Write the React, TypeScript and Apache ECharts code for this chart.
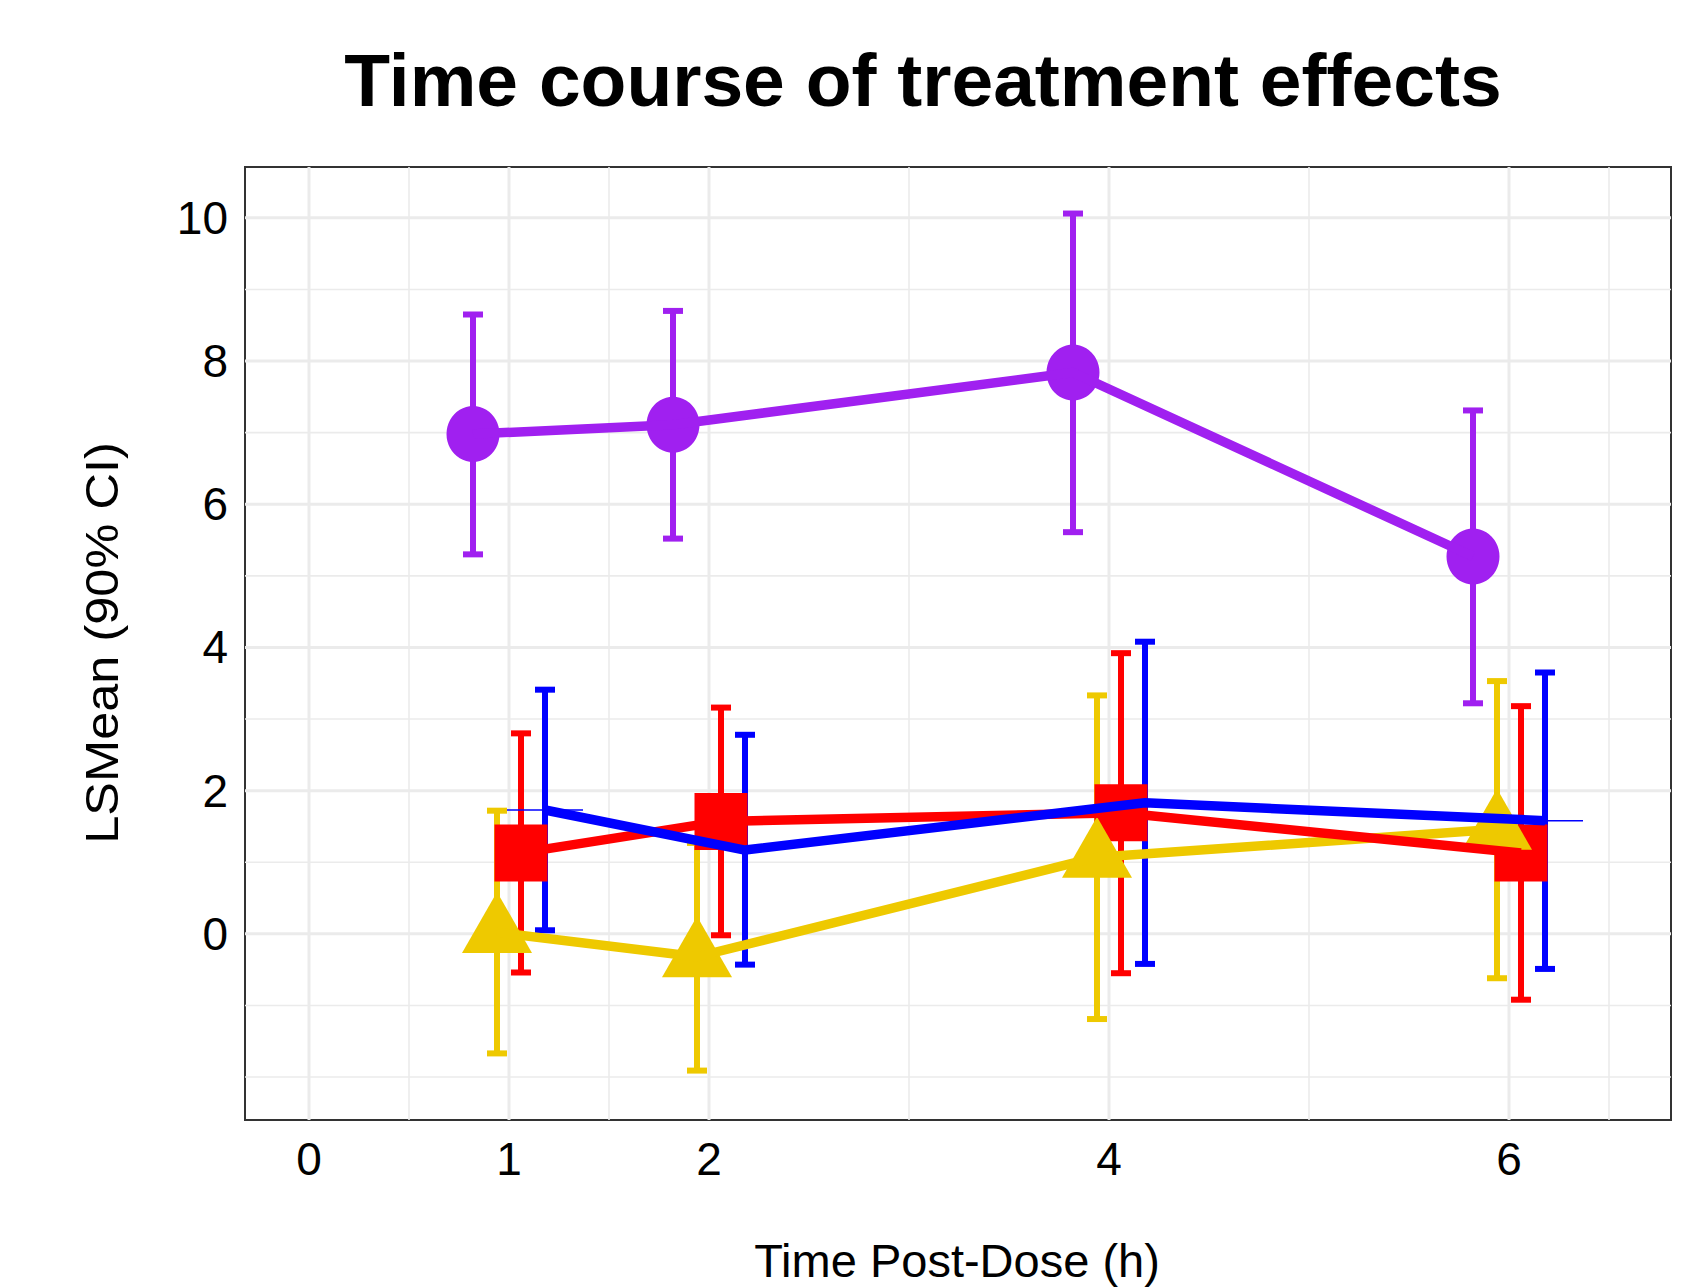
import React, { useEffect, useRef } from "react";
import * as echarts from "echarts";

// ---- data ----
const TIMES = [1, 2, 4, 6];
const DODGE = { purple: -0.18, yellow: -0.06, red: 0.06, blue: 0.18 };

const PURPLE_MEAN = [6.98, 7.11, 7.84, 5.27];
const PURPLE_LO = [5.3, 5.52, 5.61, 3.22];
const PURPLE_HI = [8.65, 8.7, 10.06, 7.31];

const YELLOW_MEAN = [0.02, -0.32, 1.07, 1.46];
const YELLOW_LO = [-1.67, -1.91, -1.19, -0.62];
const YELLOW_HI = [1.72, 1.27, 3.33, 3.53];

const RED_MEAN = [1.13, 1.57, 1.69, 1.13];
const RED_LO = [-0.54, -0.02, -0.55, -0.92];
const RED_HI = [2.8, 3.16, 3.92, 3.18];

const BLUE_MEAN = [1.73, 1.17, 1.83, 1.58];
const BLUE_LO = [0.05, -0.43, -0.42, -0.49];
const BLUE_HI = [3.41, 2.78, 4.08, 3.65];

const X_TICKS = [0, 1, 2, 4, 6];
const X_MINOR = [0.5, 1.5, 3, 5, 6.5];
const Y_TICKS = [0, 2, 4, 6, 8, 10];
const Y_MINOR = [-2, -1, 1, 3, 5, 7, 9];

const COLORS = {
  purple: "#A020F0",
  yellow: "#EEC900",
  red: "#FF0000",
  blue: "#0000FF",
};

const FONT = "'Liberation Sans', Arial, Helvetica, sans-serif";

function pts(offset: number, mean: number[]) {
  return TIMES.map((t, i) => [t + offset, mean[i]]);
}
function bars(offset: number, lo: number[], hi: number[]) {
  return TIMES.map((t, i) => [t + offset, lo[i], hi[i]]);
}

export default function App() {
  const ref = useRef<HTMLDivElement>(null);
  useEffect(() => {
    if (!ref.current) return;
    const chart = echarts.init(ref.current, null, { renderer: "svg" });

    const CAP = 0.05;
    const errorSeries = (name: string, color: string, data: number[][]) => ({
      type: "custom",
      name,
      data,
      encode: { x: 0, y: [1, 2] },
      renderItem: (params: any, api: any) => {
        const x = api.value(0);
        const lo = api.value(1);
        const hi = api.value(2);
        const a = api.coord([x, lo]);
        const b = api.coord([x, hi]);
        const l1 = api.coord([x - CAP, hi]);
        const r1 = api.coord([x + CAP, hi]);
        const l2 = api.coord([x - CAP, lo]);
        const r2 = api.coord([x + CAP, lo]);
        const st = { stroke: color, lineWidth: 6, fill: null };
        return {
          type: "group",
          children: [
            { type: "line", shape: { x1: a[0], y1: a[1], x2: b[0], y2: b[1] }, style: st },
            { type: "line", shape: { x1: l1[0], y1: l1[1], x2: r1[0], y2: r1[1] }, style: st },
            { type: "line", shape: { x1: l2[0], y1: l2[1], x2: r2[0], y2: r2[1] }, style: st },
          ],
        };
      },
      silent: true,
    });

    const gridSeries = (vals: number[], major: boolean, vertical: boolean) => ({
      type: "custom",
      data: vals.map((v) => (vertical ? [v, 0] : [0, v])),
      encode: { x: 0, y: 1 },
      silent: true,
      renderItem: (params: any, api: any) => {
        const cs = params.coordSys;
        const st = { stroke: "#EBEBEB", lineWidth: major ? 3 : 1.6 };
        if (vertical) {
          const p = api.coord([api.value(0), 0]);
          return { type: "line", shape: { x1: p[0], y1: cs.y, x2: p[0], y2: cs.y + cs.height }, style: st };
        }
        const p = api.coord([0, api.value(1)]);
        return { type: "line", shape: { x1: cs.x, y1: p[1], x2: cs.x + cs.width, y2: p[1] }, style: st };
      },
    });

    const lineSeries = (name: string, color: string, data: number[][], width = 9.5) => ({
      type: "line",
      name,
      data,
      symbol: "none",
      lineStyle: { color, width },
      silent: true,
    });

    const scatter = (name: string, color: string, data: number[][], symbol: string, size: number[], offset: number[] = [0, 0]) => ({
      type: "scatter",
      name,
      data,
      symbol,
      symbolSize: size,
      symbolOffset: offset,
      itemStyle: { color, opacity: 1 },
      silent: true,
    });

    const blueSeg = [0, TIMES.length - 1].map((i) => [TIMES[i] + DODGE.blue, BLUE_MEAN[i]]);

    const option: any = {
      animation: false,
      backgroundColor: "#ffffff",
      grid: {
        left: 245,
        top: 167,
        right: 13,
        bottom: 167,
        show: true,
        borderColor: "#333333",
        borderWidth: 2,
        backgroundColor: "#ffffff",
      },
      xAxis: {
        type: "value",
        min: -0.32,
        max: 6.81,
        splitLine: { show: false },
        axisLine: { show: false },
        axisTick: { show: true, customValues: X_TICKS, length: 9, lineStyle: { color: "#333333", width: 2 } },
        axisLabel: { customValues: X_TICKS, margin: 16, fontSize: 46, color: "#000000", fontFamily: FONT },
      },
      yAxis: {
        type: "value",
        min: -2.6,
        max: 10.71,
        splitLine: { show: false },
        axisLine: { show: false },
        axisTick: { show: true, customValues: Y_TICKS, length: 9, lineStyle: { color: "#333333", width: 2 } },
        axisLabel: { customValues: Y_TICKS, margin: 17, fontSize: 46, color: "#000000", fontFamily: FONT },
      },
      graphic: [
        {
          type: "text",
          x: 923,
          y: 80,
          style: {
            text: "Time course of treatment effects",
            fontSize: 75,
            fontWeight: "bold",
            fontFamily: FONT,
            fill: "#000000",
            align: "center",
            verticalAlign: "middle",
          },
        },
        {
          type: "text",
          x: 957,
          y: 1260,
          style: {
            text: "Time Post-Dose (h)",
            fontSize: 47,
            fontFamily: FONT,
            fill: "#000000",
            align: "center",
            verticalAlign: "middle",
          },
        },
        {
          type: "text",
          x: 102,
          y: 643,
          rotation: Math.PI / 2,
          scaleX: 1.075,
          style: {
            text: "LSMean (90% CI)",
            fontSize: 47,
            fontFamily: FONT,
            fill: "#000000",
            align: "center",
            verticalAlign: "middle",
          },
        },
      ],
      series: [
        gridSeries(X_MINOR, false, true),
        gridSeries(Y_MINOR, false, false),
        gridSeries(X_TICKS, true, true),
        gridSeries(Y_TICKS, true, false),
        errorSeries("purple-ci", COLORS.purple, bars(DODGE.purple, PURPLE_LO, PURPLE_HI)),
        errorSeries("yellow-ci", COLORS.yellow, bars(DODGE.yellow, YELLOW_LO, YELLOW_HI)),
        errorSeries("red-ci", COLORS.red, bars(DODGE.red, RED_LO, RED_HI)),
        errorSeries("blue-ci", COLORS.blue, bars(DODGE.blue, BLUE_LO, BLUE_HI)),
        scatter("purple-pt", COLORS.purple, pts(DODGE.purple, PURPLE_MEAN), "circle", [53, 56]),
        scatter("red-pt", COLORS.red, pts(DODGE.red, RED_MEAN), "rect", [53, 57]),
        scatter("yellow-pt", COLORS.yellow, pts(DODGE.yellow, YELLOW_MEAN), "triangle", [70, 61], [0, -10]),
        lineSeries("purple", COLORS.purple, pts(DODGE.purple, PURPLE_MEAN)),
        lineSeries("yellow", COLORS.yellow, pts(DODGE.yellow, YELLOW_MEAN)),
        lineSeries("red", COLORS.red, pts(DODGE.red, RED_MEAN)),
        lineSeries("blue", COLORS.blue, pts(DODGE.blue, BLUE_MEAN)),
        {
          type: "custom",
          name: "blue-ref",
          data: blueSeg,
          encode: { x: 0, y: 1 },
          silent: true,
          renderItem: (params: any, api: any) => {
            const x = api.value(0);
            const y = api.value(1);
            const a = api.coord([x - 0.19, y]);
            const b = api.coord([x + 0.19, y]);
            return { type: "line", shape: { x1: a[0], y1: a[1], x2: b[0], y2: b[1] }, style: { stroke: COLORS.blue, lineWidth: 1.6 } };
          },
        },
      ],
    };

    chart.setOption(option);
    return () => chart.dispose();
  }, []);

  return (
    <div
      ref={ref}
      style={{ position: "absolute", left: 0, top: 0, width: 1684, height: 1287, background: "#fff" }}
    />
  );
}
